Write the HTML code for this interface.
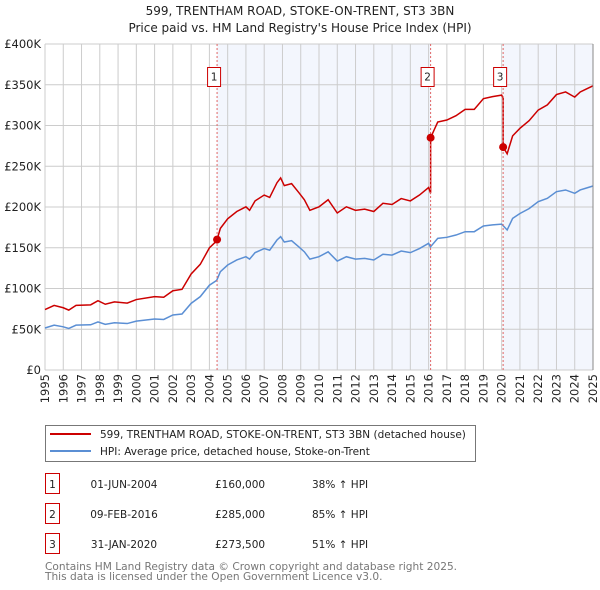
<!DOCTYPE html>
<html><head><meta charset="utf-8"><style>
body{margin:0;background:#fff;width:600px;height:590px;overflow:hidden;font-family:"DejaVu Sans","Liberation Sans",sans-serif}
svg{display:block}
</style></head><body>
<svg id="chart" width="600" height="590" xmlns="http://www.w3.org/2000/svg" font-family="DejaVu Sans, Liberation Sans, sans-serif">
<text x="300" y="15" font-size="12" text-anchor="middle" fill="#222">599, TRENTHAM ROAD, STOKE-ON-TRENT, ST3 3BN</text>
<text x="300" y="32" font-size="12" text-anchor="middle" fill="#222">Price paid vs. HM Land Registry's House Price Index (HPI)</text>
<g id="plot"></g>
<g>
<rect x="45.5" y="425.5" width="430" height="36" fill="#fff" stroke="#777"/>
<line x1="50" y1="434" x2="91" y2="434" stroke="#cc0000" stroke-width="2"/>
<text x="100" y="438" font-size="10.5" fill="#222">599, TRENTHAM ROAD, STOKE-ON-TRENT, ST3 3BN (detached house)</text>
<line x1="50" y1="451" x2="91" y2="451" stroke="#5b8fd4" stroke-width="2"/>
<text x="100" y="455" font-size="10.5" fill="#222">HPI: Average price, detached house, Stoke-on-Trent</text>
</g>
<g id="table" font-size="10.5" fill="#222"></g>
<text font-size="10.6" fill="#777"><tspan x="45" y="570">Contains HM Land Registry data © Crown copyright and database right 2025.</tspan><tspan x="45" y="580">This data is licensed under the Open Government Licence v3.0.</tspan></text>
</svg>
<script>
const hpiYears=[1995,1995.5,1996,1996.3,1996.7,1997.5,1997.9,1998.3,1998.8,1999.5,2000,2001,2001.5,2002,2002.5,2003,2003.5,2004,2004.4,2004.6,2005,2005.5,2006,2006.2,2006.5,2007,2007.3,2007.7,2007.9,2008.1,2008.5,2008.9,2009.2,2009.5,2010,2010.5,2011,2011.5,2012,2012.5,2013,2013.5,2014,2014.5,2015,2015.5,2016,2016.1,2016.5,2017,2017.5,2018,2018.5,2019,2019.5,2020,2020.3,2020.6,2021,2021.5,2022,2022.5,2023,2023.5,2024,2024.3,2024.6,2025];
const hpiValues=[51.5,55,53,51,55,55.5,59,56,58,57,60,62.5,62,67.5,68.7,81.8,90,104,110,120.6,128.8,135,139,136,144,149,147,159.5,163.6,157,158.7,151,145,136,139,145,133.7,139,136,137,135,142,141,146,144,149,155.4,151,161.5,162.8,165.6,169.7,169.7,176.7,178,179,171.8,186,192,198,206.5,210.6,218.8,220.9,216.8,220.9,223,225.8];
const saleDates=[2004.42,2016.11,2020.08];
const salePrices=[160,285,273.5];
const saleLabels=["01-JUN-2004","09-FEB-2016","31-JAN-2020"];
const salePriceText=["£160,000","£285,000","£273,500"];
const saleHpiText=["38% ↑ HPI","85% ↑ HPI","51% ↑ HPI"];
const yTicks=[0,50,100,150,200,250,300,350,400];
const yTickLabels=["£0","£50K","£100K","£150K","£200K","£250K","£300K","£350K","£400K"];
const xYears=[1995,1996,1997,1998,1999,2000,2001,2002,2003,2004,2005,2006,2007,2008,2009,2010,2011,2012,2013,2014,2015,2016,2017,2018,2019,2020,2021,2022,2023,2024,2025];

const NS="http://www.w3.org/2000/svg";
const X0=45,X1=593,Y0=370,Y1=44;
const xs=t=>X0+(t-1995)/30*(X1-X0);
const ys=v=>Y0-v/400*(Y0-Y1);
const plot=document.getElementById('plot');
function mk(tag,attrs,parent){const e=document.createElementNS(NS,tag);for(const k in attrs)e.setAttribute(k,attrs[k]);(parent||plot).appendChild(e);return e;}
function hpiAt(t){for(let i=0;i<hpiYears.length-1;i++){if(t>=hpiYears[i]&&t<=hpiYears[i+1]){const f=(t-hpiYears[i])/(hpiYears[i+1]-hpiYears[i]);return hpiValues[i]+f*(hpiValues[i+1]-hpiValues[i]);}}return hpiValues[hpiValues.length-1];}
let sh=mk('rect',{x:xs(saleDates[0]),y:Y1,width:xs(saleDates[1])-xs(saleDates[0]),height:Y0-Y1,fill:'#f3f6fd'});


sh=mk('rect',{x:xs(saleDates[2]),y:Y1,width:X1-xs(saleDates[2]),height:Y0-Y1,fill:'#f3f6fd'});


xYears.forEach((yr,i)=>{
 const g=mk('line',{x1:xs(yr),x2:xs(yr),y1:Y1,y2:Y0,stroke:'#cccccc','stroke-width':1});
 
 
 const x=xs(yr);
 const t=mk('text',{x:x+4,y:Y0+4,'font-size':11.5,'text-anchor':'end',fill:'#222',transform:`rotate(-90 ${x+4} ${Y0+4})`});
 
 
 t.textContent=yr;
});
yTicks.forEach((v,i)=>{
 const g=mk('line',{x1:X0,x2:X1,y1:ys(v),y2:ys(v),stroke:'#cccccc','stroke-width':1});
 
 
 const t=mk('text',{x:X0-4,y:ys(v)+4,'font-size':11.5,'text-anchor':'end',fill:'#222'});
 
 
 t.textContent=yTickLabels[i];
});
const hp=mk('polyline',{points:hpiYears.map((t,i)=>xs(t)+','+ys(hpiValues[i])).join(' '),fill:'none',stroke:'#5b8fd4','stroke-width':1.5});


const factors=saleDates.map((d,i)=>salePrices[i]/hpiAt(d));
const pts=[];
function fac(t){let f=factors[0];saleDates.forEach((d,i)=>{if(t>=d)f=factors[i];});return f;}
const times=hpiYears.concat(saleDates).sort((a,b)=>a-b);
times.forEach(t=>{
 const si=saleDates.indexOf(t);
 if(si>0){pts.push([t,hpiAt(t)*factors[si-1]]);}
 pts.push([t,hpiAt(t)*fac(t)]);
});
const pl=mk('polyline',{points:pts.map(p=>xs(p[0])+','+ys(p[1])).join(' '),fill:'none',stroke:'#cc0000','stroke-width':1.5});


saleDates.forEach((d,i)=>{
 const l=mk('line',{x1:xs(d),x2:xs(d),y1:Y1,y2:Y0,stroke:'#e06666','stroke-width':1,'stroke-dasharray':'2,2'});
 
 
 const c=mk('circle',{cx:xs(d),cy:ys(salePrices[i]),r:4,fill:'#cc0000'});
 
 
 const b=mk('rect',{x:xs(d)-9.5,y:67.5,width:13,height:19,fill:'#fff',stroke:'#cc0000'});
 
 
 const t=mk('text',{x:xs(d)-3,y:80.5,'font-size':10.5,'text-anchor':'middle',fill:'#222'});
 
 
 t.textContent=i+1;
});
const bd=mk('line',{x1:X1,x2:X1,y1:Y1,y2:Y0,stroke:'#888','stroke-width':1});


const tb=document.getElementById('table');
saleDates.forEach((d,i)=>{
 const cy=484+i*30;
 const b=mk('rect',{x:45.5,y:cy-10.5,width:14,height:20,fill:'#fff',stroke:'#cc0000'},tb);
 
 
 const cells=[[52.5,String(i+1),'middle'],[124,saleLabels[i],'middle'],[215,salePriceText[i],'start'],[312,saleHpiText[i],'start']];
 cells.forEach(c=>{
  const t=mk('text',{x:c[0],y:cy+4,'text-anchor':c[2]},tb);
  
  
  t.textContent=c[1];
 });
});
</script>
</body></html>
